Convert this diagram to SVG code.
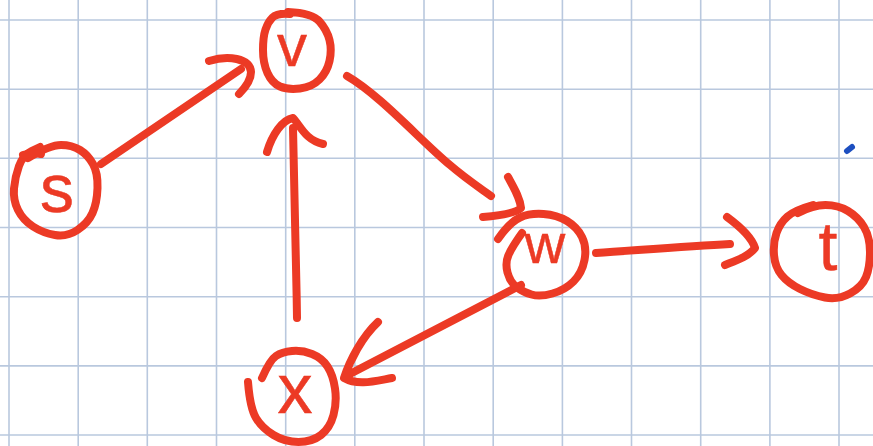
<svg xmlns="http://www.w3.org/2000/svg" width="873" height="446" viewBox="0 0 873 446">
  <style>
    .grid line { stroke: #b9c8de; stroke-width: 1.6; }
    .ink { fill: none; stroke: #ec3a25; stroke-width: 8; stroke-linecap: round; stroke-linejoin: round; }
    .lbl { font-family: "Liberation Sans", "DejaVu Sans", sans-serif; fill: #ec3a25; stroke: #ec3a25; stroke-width: 0.5; text-anchor: middle; }
  </style>
  <rect width="873" height="446" fill="#ffffff"/>

  <!-- squared paper -->
  <g class="grid">
    <line x1="9" y1="0" x2="9" y2="446"/>
    <line x1="78.2" y1="0" x2="78.2" y2="446"/>
    <line x1="147.3" y1="0" x2="147.3" y2="446"/>
    <line x1="216.5" y1="0" x2="216.5" y2="446"/>
    <line x1="285.7" y1="0" x2="285.7" y2="446"/>
    <line x1="354.8" y1="0" x2="354.8" y2="446"/>
    <line x1="424" y1="0" x2="424" y2="446"/>
    <line x1="493.2" y1="0" x2="493.2" y2="446"/>
    <line x1="562.4" y1="0" x2="562.4" y2="446"/>
    <line x1="631.5" y1="0" x2="631.5" y2="446"/>
    <line x1="700.7" y1="0" x2="700.7" y2="446"/>
    <line x1="769.9" y1="0" x2="769.9" y2="446"/>
    <line x1="839" y1="0" x2="839" y2="446"/>
    <line x1="0" y1="20" x2="873" y2="20"/>
    <line x1="0" y1="89.2" x2="873" y2="89.2"/>
    <line x1="0" y1="158.3" x2="873" y2="158.3"/>
    <line x1="0" y1="227.5" x2="873" y2="227.5"/>
    <line x1="0" y1="296.7" x2="873" y2="296.7"/>
    <line x1="0" y1="365.9" x2="873" y2="365.9"/>
    <line x1="0" y1="435" x2="873" y2="435"/>
  </g>

  <!-- stray pen dot -->
  <line x1="847" y1="151" x2="852" y2="147" stroke="#1d4fc0" stroke-width="6" stroke-linecap="round"/>

  <!-- edges -->
  <g id="edges" class="ink">
    <g id="edge-s-v">
      <path d="M101,164 L241,69"/>
      <path d="M209,61 C228,55 250,58 251,72 C251,80 245,88 239,94"/>
    </g>
    <g id="edge-x-v">
      <path d="M297,318 C296,250 294,180 293,128"/>
      <path d="M267,152 C272,135 282,120 293,118 C300,125 305,140 323,144"/>
    </g>
    <g id="edge-v-w">
      <path d="M347,76 C380,95 420,140 450,165 C465,178 480,188 491,196"/>
      <path d="M508,177 C514,188 520,198 521,208 C515,214 495,216 483,217"/>
    </g>
    <g id="edge-w-t">
      <path d="M596,253 C640,250 690,246 730,244"/>
      <path d="M727,217 C742,228 752,238 755,248 C748,257 735,261 725,265"/>
    </g>
    <g id="edge-w-x">
      <path d="M521,285 L346,376"/>
      <path d="M378,322 C362,337 350,360 344,378 C358,386 375,381 392,378"/>
    </g>
  </g>

  <!-- nodes -->
  <g id="node-s">
    <path class="ink" d="M28,158 Q50,145 61,145 Q72,145 80,150 Q88,155 93,164 Q98,173 97.5,188 Q97,203 92.5,213 Q88,223 77.5,230 Q67,237 55,235 Q43,233 33,226.5 Q23,220 18,210 Q13,200 14,188.5 Q15,177 19,166 Q23,155 31.5,151 L40,147"/>
    <path class="ink" d="M23,155 Q33,152 41,154"/>
    <text class="lbl" x="57" y="212" font-size="68">s</text>
  </g>
  <g id="node-v">
    <path class="ink" d="M288,12 Q312,13 319.5,21.5 Q327,30 329.5,40 Q332,50 329.5,61 Q327,72 319.5,79.5 Q312,87 300,88.5 Q288,90 280,86.5 Q272,83 267.5,73 Q263,63 263,50 Q263,37 265.5,29.5 Q268,22 272.5,17.5 Q277,13 290,14"/>
    <text class="lbl" x="292" y="66" font-size="60">v</text>
  </g>
  <g id="node-w">
    <path class="ink" d="M498,239 Q510,222 520,217.5 Q530,213 543.5,214 Q557,215 567,221 Q577,227 582,237 Q587,247 584.5,260 Q582,273 573.5,281.5 Q565,290 552.5,293.5 Q540,297 531.5,294.5 Q523,292 516.5,287 Q510,282 507.5,272.5 Q505,263 508.5,255 Q512,247 522,233"/>
    <text class="lbl" x="545" y="263" font-size="56">w</text>
  </g>
  <g id="node-t">
    <path class="ink" d="M798,213 Q813,205 825.5,205 Q838,205 848,211 Q858,217 864,227 Q870,237 870,252 Q870,267 866,277 Q862,287 850,293.5 Q838,300 825,297.5 Q812,295 800,289 Q788,283 781.5,275 Q775,267 774,255 Q773,243 776.5,233 Q780,223 787.5,216.5 Q795,210 813,205"/>
    <text class="lbl" x="828" y="270" font-size="68">t</text>
  </g>
  <g id="node-x">
    <path class="ink" d="M248,382 Q250,408 256,418 Q262,428 273.5,435 Q285,442 298.5,442 Q312,442 321,435 Q330,428 333.5,415 Q337,402 335,388.5 Q333,375 327.5,366.5 Q322,358 312,354 Q302,350 292,351 Q282,352 276,356 Q270,360 262,378"/>
    <text class="lbl" x="295" y="413" font-size="70">x</text>
  </g>
</svg>
